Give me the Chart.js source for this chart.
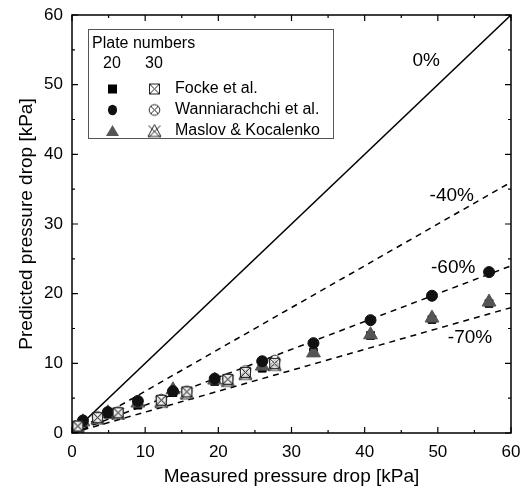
<!DOCTYPE html>
<html>
<head>
<meta charset="utf-8">
<script src="https://cdn.jsdelivr.net/npm/chart.js@4.4.0/dist/chart.umd.min.js"></script>
<style>
  html, body { margin: 0; padding: 0; background: #fff; }
  #wrap { width: 530px; height: 488px; }
</style>
</head>
<body>
<div id="wrap"><canvas id="mainChart"></canvas></div>
<script>
// measured pressure drop, 20 plates and 30 plates [kPa]
const x20 = [0.4, 1.5, 4.9, 9.0, 13.8, 19.5, 26.0, 33.0, 40.8, 49.2, 57.0];
const focke20 = [0.6, 1.5, 2.7, 4.0, 5.8, 7.4, 9.3, 11.6, 14.0, 16.3, 18.6];
const wann20 = [0.7, 1.8, 3.0, 4.6, 6.0, 7.8, 10.3, 12.9, 16.2, 19.7, 23.1];
const maslov20 = [0.7, 1.6, 2.9, 4.3, 6.2, 7.6, 9.6, 11.5, 14.1, 16.5, 18.8];

const x30 = [0.8, 3.5, 6.3, 12.2, 15.7, 21.3, 23.7, 27.7];
const focke30 = [1.0, 2.2, 2.9, 4.7, 5.9, 7.7, 8.7, 10.0];
const wann30 = [1.0, 2.3, 3.0, 4.8, 6.0, 7.8, 8.9, 10.4];
const maslov30 = [0.9, 2.1, 2.8, 4.5, 5.7, 7.5, 8.5, 9.8];

// deviation lines: predicted = ratio * measured
const devLabels = ["0%", "-40%", "-60%", "-70%"];
const devRatios = [1.0, 0.6, 0.4, 0.3];
const devLabelPos = [[48.4, 53.5], [51.9, 34.1], [52.1, 23.7], [54.4, 13.6]];

const axisTicks = [0, 10, 20, 30, 40, 50, 60];
const legendTitle = "Plate numbers";
const legendCols = ["20", "30"];
const legendNames = ["Focke et al.", "Wanniarachchi et al.", "Maslov & Kocalenko"];

const FONT = '"Liberation Sans", Arial, sans-serif';

function pts(xs, ys) {
    return xs.map((v, i) => ({x: v, y: ys[i]}))
}

// hollow symbols with a cross inside
function hollowIcon(kind) {
    const c = document.createElement('canvas');
    c.width = 15; c.height = 15;
    const g = c.getContext('2d');
    g.strokeStyle = '#222';
    g.lineWidth = 1;
    g.fillStyle = 'rgba(255,255,255,0.6)';
    g.beginPath();
    if (kind == 'rect') {
        g.rect(2.5, 2.5, 10, 10);
        g.fill(); g.stroke();
        g.beginPath();
        g.moveTo(2.5, 2.5); g.lineTo(12.5, 12.5);
        g.moveTo(12.5, 2.5); g.lineTo(2.5, 12.5);
        g.stroke();
    } else if (kind == 'circle') {
        g.arc(7.5, 7.5, 5.3, 0, Math.PI * 2);
        g.fill(); g.stroke();
        g.beginPath();
        g.moveTo(3.8, 3.8); g.lineTo(11.2, 11.2);
        g.moveTo(11.2, 3.8); g.lineTo(3.8, 11.2);
        g.stroke();
    } else {
        g.moveTo(7.5, 1); g.lineTo(14, 13); g.lineTo(1, 13); g.closePath();
        g.fill(); g.stroke();
        g.beginPath();
        g.moveTo(1.5, 2); g.lineTo(13.5, 14);
        g.moveTo(13.5, 2); g.lineTo(1.5, 14);
        g.stroke();
    }
    return c;
}

const iconRect = hollowIcon('rect');
const iconCircle = hollowIcon('circle');
const iconTri = hollowIcon('tri');

// frame, inward ticks, line labels and the legend box
const decorPlugin = {
    id: 'decor',
    afterDraw(chart) {
        const ctx = chart.ctx;
        const a = chart.chartArea;
        const xs = chart.scales.x, ys = chart.scales.y;
        ctx.save();
        ctx.strokeStyle = '#000';
        ctx.lineWidth = 1.5;
        ctx.strokeRect(a.left, a.top, a.right - a.left, a.bottom - a.top);
        ctx.lineWidth = 1.2;
        ctx.beginPath();
        for (let v = 0; v <= 60; v += 5) {
            const len = v % 10 == 0 ? 6 : 3;
            const px = xs.getPixelForValue(v);
            const py = ys.getPixelForValue(v);
            ctx.moveTo(px, a.bottom); ctx.lineTo(px, a.bottom - len);
            ctx.moveTo(px, a.top); ctx.lineTo(px, a.top + len);
            ctx.moveTo(a.left, py); ctx.lineTo(a.left + len, py);
            ctx.moveTo(a.right, py); ctx.lineTo(a.right - len, py);
        }
        ctx.stroke();

        ctx.fillStyle = '#000';
        ctx.font = '19px ' + FONT;
        ctx.textAlign = 'center';
        ctx.textBaseline = 'middle';
        devLabels.forEach((t, i) => {
            ctx.fillText(t, xs.getPixelForValue(devLabelPos[i][0]), ys.getPixelForValue(devLabelPos[i][1]));
        });

        // legend
        const lx = 88, ly = 29, lw = 245, lh = 109;
        ctx.fillStyle = '#fff';
        ctx.fillRect(lx, ly, lw, lh);
        ctx.strokeStyle = '#555';
        ctx.lineWidth = 1;
        ctx.strokeRect(lx + 0.5, ly + 0.5, lw, lh);
        ctx.fillStyle = '#000';
        ctx.font = '16px ' + FONT;
        ctx.textAlign = 'left';
        ctx.fillText(legendTitle, 92, 44);
        ctx.textAlign = 'center';
        ctx.fillText(legendCols[0], 112, 64);
        ctx.fillText(legendCols[1], 154, 64);
        ctx.textAlign = 'left';
        const rows = [89, 110, 131];
        legendNames.forEach((n, i) => ctx.fillText(n, 175, rows[i]));
        // filled symbols
        ctx.fillStyle = '#000';
        ctx.fillRect(108, rows[0] - 4.5, 9, 9);
        ctx.fillStyle = '#111';
        ctx.beginPath();
        ctx.ellipse(112.5, rows[1], 4.6, 5.3, 0, 0, Math.PI * 2);
        ctx.fill();
        ctx.fillStyle = '#555';
        ctx.beginPath();
        ctx.moveTo(112.5, rows[2] - 6); ctx.lineTo(119, rows[2] + 5); ctx.lineTo(106, rows[2] + 5);
        ctx.closePath();
        ctx.fill();
        ctx.drawImage(iconRect, 147, rows[0] - 7.5);
        ctx.drawImage(iconCircle, 147, rows[1] - 7.5);
        ctx.drawImage(iconTri, 147, rows[2] - 7.5);
        ctx.restore();
    }
};

let datasets = [
    {label: "Focke 30", data: pts(x30, focke30), pointStyle: iconRect},
    {label: "Wanniarachchi 30", data: pts(x30, wann30), pointStyle: iconCircle},
    {label: "Maslov 30", data: pts(x30, maslov30), pointStyle: iconTri},
    {label: "Wanniarachchi 20", data: pts(x20, wann20), pointStyle: 'circle', pointRadius: 5.5,
        backgroundColor: '#111', borderColor: '#111'},
    {label: "Maslov 20", data: pts(x20, maslov20), pointStyle: 'triangle', pointRadius: 8,
        backgroundColor: '#555', borderColor: '#555'},
    {label: "Focke 20", data: pts(x20, focke20), pointStyle: 'rect', pointRadius: 5.5,
        backgroundColor: '#000', borderColor: '#000'}
];

devRatios.forEach((r, i) => {
    datasets.push({
        type: 'line',
        label: devLabels[i],
        data: [{x: 0, y: 0}, {x: 60, y: 60 * r}],
        borderColor: '#000',
        borderWidth: 1.5,
        borderDash: i == 0 ? [] : [6, 5],
        pointRadius: 0,
        fill: false
    })
});

const ctx = document.getElementById('mainChart').getContext('2d');
const mainChart = new Chart(ctx, {
    type: 'scatter',
    data: {datasets: datasets},
    options: {
        responsive: true,
        maintainAspectRatio: false,
        animation: false,
        layout: {padding: {left: 15, right: 19, top: 15, bottom: 0}},
        plugins: {
            legend: {display: false},
            tooltip: {enabled: false}
        },
        scales: {
            x: {
                min: 0, max: 60,
                afterBuildTicks: s => { s.ticks = axisTicks.map(v => ({value: v})) },
                afterFit: s => { s.height = 55; s.paddingLeft = 0; s.paddingRight = 0 },
                grid: {display: false, drawTicks: false},
                border: {display: false},
                ticks: {color: '#000', padding: 9, maxRotation: 0,
                    font: {size: 17, family: FONT}},
                title: {display: true, text: 'Measured pressure drop [kPa]', color: '#000',
                    padding: 0, font: {size: 19, family: FONT}}
            },
            y: {
                min: 0, max: 60,
                afterBuildTicks: s => { s.ticks = axisTicks.map(v => ({value: v})) },
                afterFit: s => { s.width = 57; s.paddingTop = 0; s.paddingBottom = 0 },
                grid: {display: false, drawTicks: false},
                border: {display: false},
                ticks: {color: '#000', padding: 9,
                    font: {size: 17, family: FONT}},
                title: {display: true, text: 'Predicted pressure drop [kPa]', color: '#000',
                    padding: 0, font: {size: 19, family: FONT}}
            }
        }
    },
    plugins: [decorPlugin]
});
</script>
</body>
</html>
